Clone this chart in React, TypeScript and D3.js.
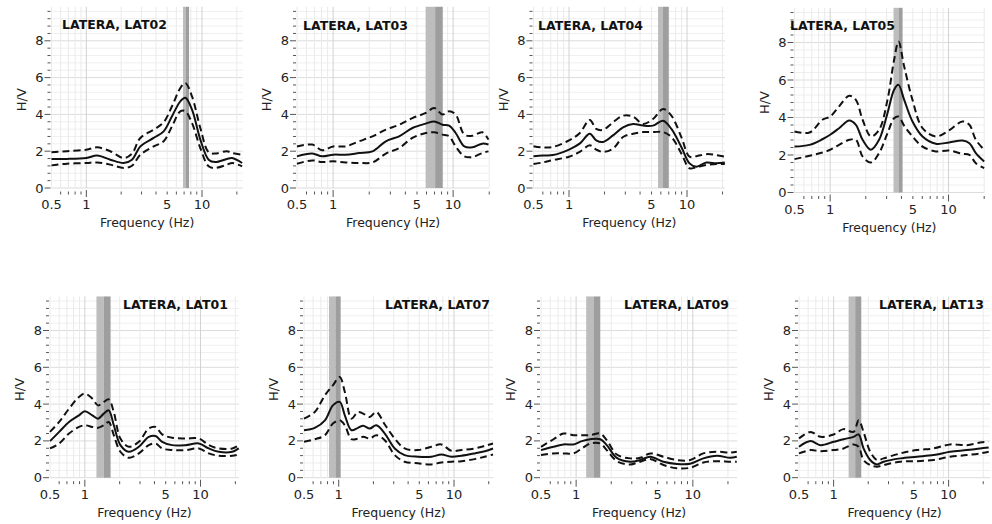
import React from 'react'
import * as d3 from 'd3'

// Data
const site = 'LATERA'
const stations = ['LAT02', 'LAT03', 'LAT04', 'LAT05', 'LAT01', 'LAT07', 'LAT09', 'LAT13']
const xTickLabels = [0.5, 1, 5, 10]
const yTickLabels = [0, 2, 4, 6, 8]

const freqLAT02 = [0.5, 0.68, 1.0, 1.24, 1.61, 2.1, 2.48, 2.93, 3.82, 4.66, 5.5, 6.49, 7.17, 8.19, 9.67, 11.4, 13, 16.4, 18.2, 22.2]
const meanLAT02 = [1.58, 1.58, 1.63, 1.76, 1.54, 1.36, 1.54, 2.26, 2.72, 3.08, 3.9, 4.71, 4.9, 4.26, 2.63, 1.54, 1.41, 1.58, 1.63, 1.36]
const upperLAT02 = [1.94, 2.0, 2.08, 2.21, 2.0, 1.63, 1.87, 2.72, 3.17, 3.57, 4.44, 5.43, 5.7, 4.98, 3.26, 1.94, 1.87, 2.0, 1.9, 1.81]
const lowerLAT02 = [1.23, 1.32, 1.36, 1.39, 1.27, 1.09, 1.21, 1.81, 2.26, 2.54, 3.35, 4.17, 4.17, 3.53, 2.17, 1.18, 1.09, 1.27, 1.36, 1.18]
const peakLAT02 = [6.85, 7.2, 7.72]

const freqLAT03 = [0.5, 0.67, 0.81, 1.0, 1.27, 1.65, 2.13, 2.75, 3.55, 4.58, 5.92, 6.95, 8.15, 9.26, 10.5, 12.4, 14.5, 17.5, 19.7]
const meanLAT03 = [1.72, 1.87, 1.72, 1.81, 1.81, 1.9, 1.99, 2.54, 2.81, 3.26, 3.5, 3.62, 3.44, 3.39, 2.99, 2.26, 2.21, 2.41, 2.36]
const upperLAT03 = [2.26, 2.36, 2.05, 2.26, 2.26, 2.54, 2.81, 3.17, 3.44, 3.8, 4.08, 4.35, 3.99, 4.17, 3.99, 2.9, 2.84, 3.03, 2.63]
const lowerLAT03 = [1.32, 1.5, 1.41, 1.45, 1.39, 1.36, 1.39, 1.87, 2.17, 2.72, 2.99, 3.03, 2.9, 2.81, 2.26, 1.72, 1.68, 1.9, 1.99]
const peakLAT03 = [5.9, 7.08, 8.2]

const freqLAT04 = [0.5, 0.6, 0.73, 1.0, 1.23, 1.5, 1.7, 1.94, 2.36, 2.87, 3.49, 4.24, 5.15, 6.26, 7.37, 8.95, 10.5, 12, 14.6, 17.7, 20.9]
const meanLAT04 = [1.73, 1.77, 1.79, 2.09, 2.41, 2.95, 2.59, 2.5, 2.86, 3.3, 3.48, 3.39, 3.39, 3.66, 3.21, 2.23, 1.34, 1.16, 1.38, 1.34, 1.38]
const upperLAT04 = [2.27, 2.2, 2.23, 2.59, 2.98, 3.7, 3.21, 3.16, 3.57, 3.93, 3.88, 3.48, 3.75, 4.29, 3.93, 2.77, 1.7, 1.73, 1.84, 1.79, 1.7]
const lowerLAT04 = [1.3, 1.39, 1.52, 1.7, 1.96, 2.32, 2.09, 1.96, 2.14, 2.77, 2.95, 3.04, 3.04, 3.04, 2.77, 1.88, 1.07, 1.13, 1.25, 1.3, 1.3]
const peakLAT04 = [5.68, 6.26, 7.0]

const freqLAT05 = [0.5, 0.67, 0.86, 1.0, 1.19, 1.45, 1.65, 1.88, 2.21, 2.59, 3.05, 3.47, 3.78, 4.22, 4.96, 6.03, 7.81, 10.1, 13.1, 15, 17, 20]
const meanLAT05 = [2.45, 2.54, 2.84, 3.08, 3.43, 3.84, 3.61, 2.81, 2.28, 2.81, 4.23, 5.48, 5.74, 4.94, 3.79, 2.99, 2.6, 2.67, 2.77, 2.63, 2.1, 1.65]
const upperLAT05 = [3.25, 3.2, 3.88, 4.05, 4.59, 5.16, 4.94, 3.88, 2.99, 3.34, 4.94, 7.08, 8.05, 6.72, 4.94, 3.43, 2.99, 3.31, 3.79, 3.61, 2.81, 2.28]
const lowerLAT05 = [1.78, 1.96, 2.13, 2.28, 2.54, 2.81, 2.81, 1.92, 1.6, 2.1, 3.16, 3.96, 4.05, 3.56, 2.99, 2.45, 2.19, 2.24, 2.06, 2.01, 1.56, 1.3]
const peakLAT05 = [3.43, 3.78, 4.09]

const freqLAT01 = [0.5, 0.6, 0.73, 0.89, 1.0, 1.16, 1.3, 1.46, 1.61, 1.78, 2.03, 2.4, 2.93, 3.57, 4.08, 4.66, 5.69, 7.42, 9.67, 11.8, 14.4, 18.8, 21.4]
const meanLAT01 = [1.99, 2.49, 3.03, 3.39, 3.61, 3.39, 3.21, 3.48, 3.66, 2.85, 1.77, 1.41, 1.68, 2.22, 2.27, 1.95, 1.77, 1.77, 1.86, 1.59, 1.41, 1.41, 1.59]
const upperLAT01 = [2.49, 3.03, 3.75, 4.39, 4.57, 4.3, 3.93, 4.12, 4.26, 3.57, 2.13, 1.68, 1.95, 2.67, 2.76, 2.35, 2.17, 2.13, 2.13, 1.77, 1.59, 1.59, 1.77]
const lowerLAT01 = [1.59, 1.86, 2.4, 2.76, 2.85, 2.76, 2.71, 2.85, 3.03, 2.31, 1.41, 1.08, 1.32, 1.77, 1.86, 1.59, 1.5, 1.5, 1.59, 1.32, 1.19, 1.19, 1.26]
const peakLAT01 = [1.26, 1.46, 1.67]

const freqLAT07 = [0.5, 0.62, 0.76, 0.89, 1.02, 1.13, 1.29, 1.47, 1.63, 1.86, 2.12, 2.51, 3.06, 3.73, 4.87, 6.36, 7.76, 9.48, 11.6, 15.1, 18.5, 21.8]
const meanLAT07 = [2.58, 2.71, 3.12, 3.93, 4.12, 3.39, 2.58, 2.71, 2.82, 2.67, 2.85, 2.4, 1.59, 1.23, 1.14, 1.14, 1.26, 1.14, 1.19, 1.32, 1.44, 1.59]
const upperLAT07 = [3.21, 3.57, 4.48, 5.02, 5.47, 4.66, 3.21, 3.57, 3.48, 3.3, 3.57, 2.89, 2.13, 1.59, 1.5, 1.68, 1.81, 1.46, 1.5, 1.59, 1.73, 1.86]
const lowerLAT07 = [1.95, 2.09, 2.31, 2.94, 3.12, 2.85, 2.09, 2.13, 2.22, 2.13, 2.31, 2.04, 1.23, 0.87, 0.78, 0.72, 0.83, 0.87, 0.9, 1.01, 1.14, 1.26]
const peakLAT07 = [0.824, 0.936, 1.04]

const freqLAT09 = [0.5, 0.64, 0.78, 0.95, 1.12, 1.32, 1.61, 1.83, 2.23, 2.9, 3.54, 4.31, 5.6, 7.3, 9.49, 12.3, 16.1, 20.9, 23.8]
const meanLAT09 = [1.5, 1.68, 1.81, 1.81, 1.99, 2.09, 2.09, 1.77, 1.08, 0.87, 0.96, 1.14, 0.87, 0.75, 0.76, 1.05, 1.19, 1.08, 1.14]
const upperLAT09 = [1.68, 2.09, 2.4, 2.31, 2.31, 2.31, 2.4, 2.04, 1.26, 1.05, 1.08, 1.32, 1.14, 0.96, 0.96, 1.32, 1.41, 1.37, 1.41]
const lowerLAT09 = [1.23, 1.32, 1.32, 1.32, 1.59, 1.86, 1.86, 1.5, 0.9, 0.72, 0.87, 1.01, 0.69, 0.51, 0.54, 0.83, 0.9, 0.87, 0.87]
const peakLAT09 = [1.22, 1.41, 1.61]

const freqLAT13 = [0.5, 0.63, 0.77, 1.0, 1.22, 1.49, 1.65, 1.82, 2.08, 2.38, 2.72, 3.8, 5.3, 7.41, 10.3, 14.4, 18.8, 22.3]
const meanLAT13 = [1.68, 1.99, 1.77, 1.95, 2.09, 2.22, 2.35, 1.59, 0.96, 0.72, 0.87, 1.05, 1.14, 1.23, 1.41, 1.5, 1.59, 1.64]
const upperLAT13 = [2.13, 2.49, 2.22, 2.35, 2.64, 2.49, 3.12, 2.49, 1.41, 0.96, 1.05, 1.32, 1.5, 1.59, 1.81, 1.77, 1.91, 1.95]
const lowerLAT13 = [1.32, 1.5, 1.44, 1.5, 1.59, 1.81, 1.68, 0.96, 0.69, 0.6, 0.69, 0.87, 0.9, 0.96, 1.14, 1.23, 1.32, 1.41]
const peakLAT13 = [1.35, 1.54, 1.74]

const series = [
  [freqLAT02, meanLAT02, upperLAT02, lowerLAT02, peakLAT02],
  [freqLAT03, meanLAT03, upperLAT03, lowerLAT03, peakLAT03],
  [freqLAT04, meanLAT04, upperLAT04, lowerLAT04, peakLAT04],
  [freqLAT05, meanLAT05, upperLAT05, lowerLAT05, peakLAT05],
  [freqLAT01, meanLAT01, upperLAT01, lowerLAT01, peakLAT01],
  [freqLAT07, meanLAT07, upperLAT07, lowerLAT07, peakLAT07],
  [freqLAT09, meanLAT09, upperLAT09, lowerLAT09, peakLAT09],
  [freqLAT13, meanLAT13, upperLAT13, lowerLAT13, peakLAT13],
]

// Layout of each panel (pixel position of 0.5 Hz, px per decade, last frequency, y of H/V=0, title)
const layout = [
  { x0: 51.5, dec: 115.7, fmax: 22.5, y0: 188, unit: 18.4, tx: 62, ty: 29, anchor: 'start' },
  { x0: 297, dec: 120, fmax: 20, y0: 188, unit: 18.4, tx: 303, ty: 30, anchor: 'start' },
  { x0: 533.5, dec: 118, fmax: 21, y0: 188, unit: 18.4, tx: 538, ty: 30, anchor: 'start' },
  { x0: 794.5, dec: 118.4, fmax: 20, y0: 192.5, unit: 18.75, tx: 790, ty: 30, anchor: 'start' },
  { x0: 50, dec: 115.7, fmax: 21.5, y0: 477.7, unit: 18.4, tx: 228, ty: 309, anchor: 'end' },
  { x0: 304, dec: 115.3, fmax: 21.8, y0: 477.7, unit: 18.4, tx: 490, ty: 309, anchor: 'end' },
  { x0: 541, dec: 116.7, fmax: 24, y0: 477.7, unit: 18.4, tx: 729, ty: 309, anchor: 'end' },
  { x0: 799, dec: 115, fmax: 23, y0: 477.7, unit: 18.4, tx: 984, ty: 309, anchor: 'end' },
]

const yTop = 9.85
const font = 'DejaVu Sans, Verdana, sans-serif'

function Panel({ idx }) {
  const L = layout[idx]
  const [freq, mean, upper, lower, peak] = series[idx]
  const x = d3
    .scaleLog()
    .domain([0.5, L.fmax])
    .range([L.x0, L.x0 + L.dec * Math.log10(L.fmax / 0.5)])
  const y = d3.scaleLinear().domain([0, yTop]).range([L.y0, L.y0 - yTop * L.unit])

  const line = vals =>
    d3
      .line()
      .x((d, i) => x(freq[i]))
      .y(d => y(d))
      .curve(d3.curveCatmullRom.alpha(0.5))(vals)

  const xGrid = x.ticks().filter(t => t >= 0.5 && t <= L.fmax)
  const yMinor = d3.range(0, 9.7, 0.4)
  const [xl, xr] = x.range()
  const isDecade = t => Math.abs(Math.log10(t) - Math.round(Math.log10(t))) < 1e-6

  return (
    <g>
      {/* grid */}
      {yMinor.map((v, i) => {
        const major = yTickLabels.some(t => Math.abs(t - v) < 0.01)
        return (
          <line key={'hy' + i} x1={xl} x2={xr} y1={y(v)} y2={y(v)}
            stroke={major ? '#dcdcdc' : '#efefef'} strokeWidth={1} />
        )
      })}
      {xGrid.map((t, i) => (
        <line key={'vx' + i} x1={x(t)} x2={x(t)} y1={y(0)} y2={y(yTop)}
          stroke={isDecade(t) ? '#d2d2d2' : '#eaeaea'} strokeWidth={1} />
      ))}

      {/* f0 band */}
      <rect x={x(peak[0])} width={x(peak[1]) - x(peak[0])} y={y(yTop)} height={y(0) - y(yTop)} fill="#bdbdbd" />
      <rect x={x(peak[1])} width={x(peak[2]) - x(peak[1])} y={y(yTop)} height={y(0) - y(yTop)} fill="#9e9e9e" />

      {/* y ticks */}
      {yMinor.map((v, i) => {
        const major = yTickLabels.some(t => Math.abs(t - v) < 0.01)
        return (
          <line key={'yt' + i} x1={xl - (major ? 7 : 4)} x2={xl - 1} y1={y(v)} y2={y(v)} stroke="#555" strokeWidth={1} />
        )
      })}
      {yTickLabels.map(v => (
        <text key={'yl' + v} x={xl - 8} y={y(v) + 4.5} textAnchor="end" fontSize={13} fontFamily={font} fill="#222">
          {v}
        </text>
      ))}

      {/* x ticks */}
      {xGrid.map((t, i) => {
        if (t === 0.5) return null
        const major = isDecade(t)
        return (
          <line key={'xt' + i} x1={x(t)} x2={x(t)} y1={y(0) + (major ? 2 : 3.5)} y2={y(0) + (major ? 9 : 6.5)}
            stroke="#555" strokeWidth={1} />
        )
      })}
      {xTickLabels.map(t => (
        <text key={'xl' + t} x={x(t)} y={y(0) + 21} textAnchor="middle" fontSize={13} fontFamily={font} fill="#222">
          {t}
        </text>
      ))}

      {/* curves */}
      <path d={line(upper)} fill="none" stroke="#111" strokeWidth={2} strokeDasharray="7,4" />
      <path d={line(lower)} fill="none" stroke="#111" strokeWidth={2} strokeDasharray="7,4" />
      <path d={line(mean)} fill="none" stroke="#111" strokeWidth={2} />

      {/* labels */}
      <text x={L.tx} y={L.ty} textAnchor={L.anchor} fontSize={12.5} fontWeight="bold" fontFamily={font} fill="#111">
        {site + ', ' + stations[idx]}
      </text>
      <text x={(xl + xr) / 2} y={y(0) + 39} textAnchor="middle" fontSize={12.5} fontFamily={font} fill="#222">
        Frequency (Hz)
      </text>
      <text transform={`translate(${xl - 26}, ${y(4.8)}) rotate(-90)`} textAnchor="middle" fontSize={13}
        fontFamily={font} fill="#222">
        H/V
      </text>
    </g>
  )
}

export default function App() {
  return (
    <svg width={992} height={524} style={{ position: 'absolute', left: 0, top: 0, background: '#fff' }}>
      {stations.map((s, i) => (
        <Panel key={s} idx={i} />
      ))}
    </svg>
  )
}
